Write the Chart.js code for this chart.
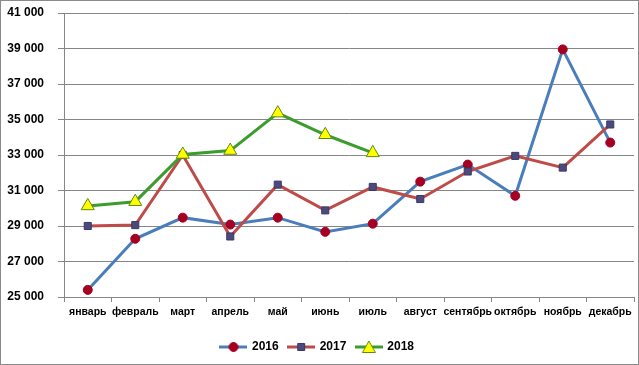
<!DOCTYPE html>
<html><head><meta charset="utf-8">
<script src="https://cdn.jsdelivr.net/npm/chart.js@4"></script>
<style>
html,body{margin:0;padding:0;background:#fff;}
#wrap{position:absolute;left:0;top:0;width:637px;height:363px;border:1px solid #8a8a8a;background:#fff;}
canvas{display:block;}
</style></head>
<body><div id="wrap"><canvas id="c" width="637" height="363"></canvas></div>
<script>
const months = ['январь','февраль','март','апрель','май','июнь','июль','август','сентябрь','октябрь','ноябрь','декабрь'];
const seriesNames = ['2016','2017','2018'];
const v2016 = [25400, 28280, 29470, 29080, 29470, 28670, 29130, 31500, 32460, 30700, 38950, 33700];
const v2017 = [29000, 29050, 33000, 28410, 31330, 29880, 31200, 30520, 32070, 32950, 32290, 34720];
const v2018 = [30130, 30370, 33030, 33250, 35360, 34140, 33120, null, null, null, null, null];
const yMin = 25000, yMax = 41000, yStep = 2000;

const styles = [
  {line:'#4A7EBB', pf:'#A50021', pb:'#A50021', ps:'circle', r:4.5},
  {line:'#BE4B48', pf:'#4B4A7C', pb:'#3B3A66', ps:'rect', r:5},
  {line:'#3C9C2E', pf:'#FFFF00', pb:'#5E8A10', ps:'triangle', r:7.5}
];

function legendIcon(s){
  const cv = document.createElement('canvas');
  cv.width = 28; cv.height = 14;
  const ctx = cv.getContext('2d');
  ctx.strokeStyle = s.line; ctx.lineWidth = 3;
  ctx.beginPath(); ctx.moveTo(0,7); ctx.lineTo(28,7); ctx.stroke();
  ctx.fillStyle = s.pf; ctx.strokeStyle = s.pb; ctx.lineWidth = 1;
  ctx.beginPath();
  if (s.ps==='circle'){ ctx.arc(14,7,4.5,0,Math.PI*2); }
  else if (s.ps==='rect'){ ctx.rect(10.5,3.5,7,7); }
  else { ctx.moveTo(14,1); ctx.lineTo(20.5,12.5); ctx.lineTo(7.5,12.5); ctx.closePath(); }
  ctx.fill(); ctx.stroke();
  return cv;
}

const allValues = [v2016, v2017, v2018];
const datasets = allValues.map((vals,i)=>({
  label: seriesNames[i],
  data: vals,
  borderColor: styles[i].line,
  backgroundColor: styles[i].line,
  borderWidth: 3,
  pointStyle: styles[i].ps,
  pointRadius: styles[i].r,
  pointHoverRadius: styles[i].r,
  pointBackgroundColor: styles[i].pf,
  pointBorderColor: styles[i].pb,
  pointBorderWidth: 1,
  tension: 0,
  spanGaps: false,
  order: 3 - i
}));

const icons = styles.map(legendIcon);

new Chart(document.getElementById('c'), {
  type: 'line',
  data: { labels: months, datasets },
  options: {
    responsive: false,
    animation: false,
    layout: { autoPadding: false, padding: { left: 0, right: 4, top: 12, bottom: 1 } },
    plugins: {
      tooltip: { enabled: false },
      legend: {
        position: 'bottom',
        labels: {
          usePointStyle: true,
          pointStyleWidth: 25,
          padding: 10,
          color: '#000',
          font: { family: 'Liberation Sans, Arial, sans-serif', size: 12, weight: 'bold' },
          sort: (a,b)=>a.datasetIndex-b.datasetIndex,
          generateLabels: (chart)=> seriesNames.map((n,i)=>({
            text: n, datasetIndex: i, pointStyle: icons[i],
            fillStyle: styles[i].line, strokeStyle: styles[i].line, lineWidth: 0, hidden: false, fontColor: '#000'
          }))
        }
      }
    },
    scales: {
      x: {
        offset: true,
        afterFit: (s)=>{ s.height = 34; s.paddingLeft = 0; s.paddingRight = 0; },
        grid: { offset: true, drawOnChartArea: false, drawTicks: true, tickLength: 5, color: '#868686' },
        border: { display: true, color: '#868686' },
        ticks: { color: '#000', padding: 4, maxRotation: 0, autoSkip: false,
          font: { family: 'Liberation Sans, Arial, sans-serif', size: 10.5, weight: 'bold' } }
      },
      y: {
        min: yMin, max: yMax,
        afterFit: (s)=>{ s.width = 63; s.paddingTop = 0; s.paddingBottom = 0; },
        grid: { color: '#868686', drawTicks: true, tickLength: 6 },
        border: { display: true, color: '#868686' },
        ticks: { stepSize: yStep, color: '#000', padding: 14,
          font: { family: 'Liberation Sans, Arial, sans-serif', size: 12, weight: 'bold' },
          callback: (v)=> String(v).replace(/\B(?=(\d{3})+(?!\d))/g, ' ') }
      }
    }
  }
});
</script></body></html>
